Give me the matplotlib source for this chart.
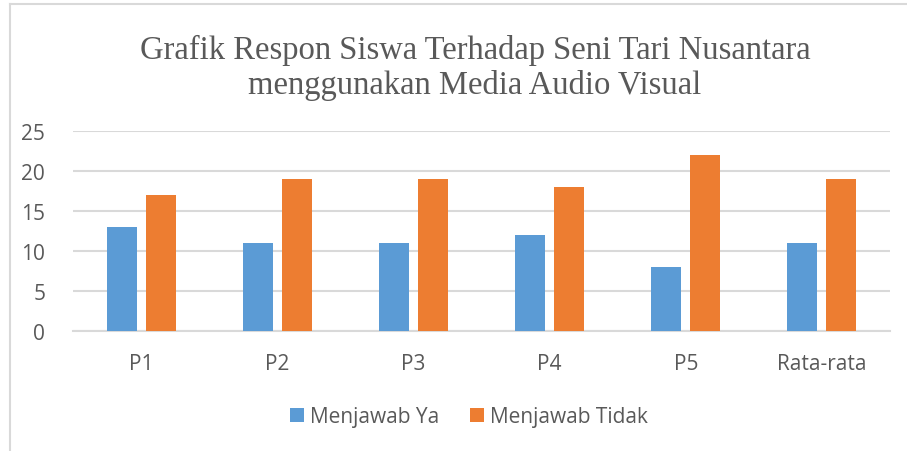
import matplotlib
matplotlib.use("Agg")
import matplotlib.pyplot as plt
from matplotlib.lines import Line2D
import numpy as np

categories = ["P1", "P2", "P3", "P4", "P5", "Rata-rata"]
ya = [13, 11, 11, 12, 8, 11]
tidak = [17, 19, 19, 18, 22, 19]
series_names = ["Menjawab Ya", "Menjawab Tidak"]
yticks = [0, 5, 10, 15, 20, 25]

blue = "#5b9bd5"
orange = "#ed7d31"
txt = "#595959"
grid = "#d9d9d9"

fig = plt.figure(figsize=(9.07, 4.52), dpi=100)
ax = fig.add_axes([73/907, 1-332/452, 817/907, 200/452])

x = np.arange(len(categories))
w = 0.22
off = 0.143
ax.bar(x - off, ya, w, color=blue, label=series_names[0], zorder=3)
ax.bar(x + off, tidak, w, color=orange, label=series_names[1], zorder=3)

ax.set_xlim(-0.5, len(categories) - 0.5)
ax.set_ylim(0, 25)
ax.set_yticks(yticks)
ax.set_xticks(x)
ax.set_xticklabels(categories)
ax.yaxis.grid(True, color=grid, lw=1.5, zorder=0)
for s in ["top", "right", "left"]:
    ax.spines[s].set_visible(False)
ax.spines["bottom"].set_color(grid)
ax.spines["bottom"].set_linewidth(1.5)
ax.tick_params(axis="both", length=0, labelsize=15, labelcolor=txt, colors=txt)
ax.tick_params(axis="x", pad=16)
ax.tick_params(axis="y", pad=20)
for lab in ax.get_xticklabels() + ax.get_yticklabels():
    lab.set_fontfamily("Open Sans")

fig.text(475/907, 1 - 68/452, "Grafik Respon Siswa Terhadap Seni Tari Nusantara\nmenggunakan Media Audio Visual",
         ha="center", va="center", fontsize=23.5, color=txt, family="Liberation Serif",
         linespacing=1.2)

leg = fig.legend(loc="center", bbox_to_anchor=(469/907, 1 - 418/452), ncol=2, frameon=False,
                 prop={"family": "Open Sans", "size": 15}, handlelength=0.66, handleheight=0.66,
                 columnspacing=1.5, handletextpad=0.3)
for t in leg.get_texts():
    t.set_color(txt)

# chart border lines (left and top)
fig.add_artist(Line2D([10/907, 10/907], [0, 1 - 5/452], transform=fig.transFigure, color=grid, lw=1.5))
fig.add_artist(Line2D([10/907, 1], [1 - 5/452, 1 - 5/452], transform=fig.transFigure, color=grid, lw=1.5))

fig.savefig("out.png", dpi=100)
